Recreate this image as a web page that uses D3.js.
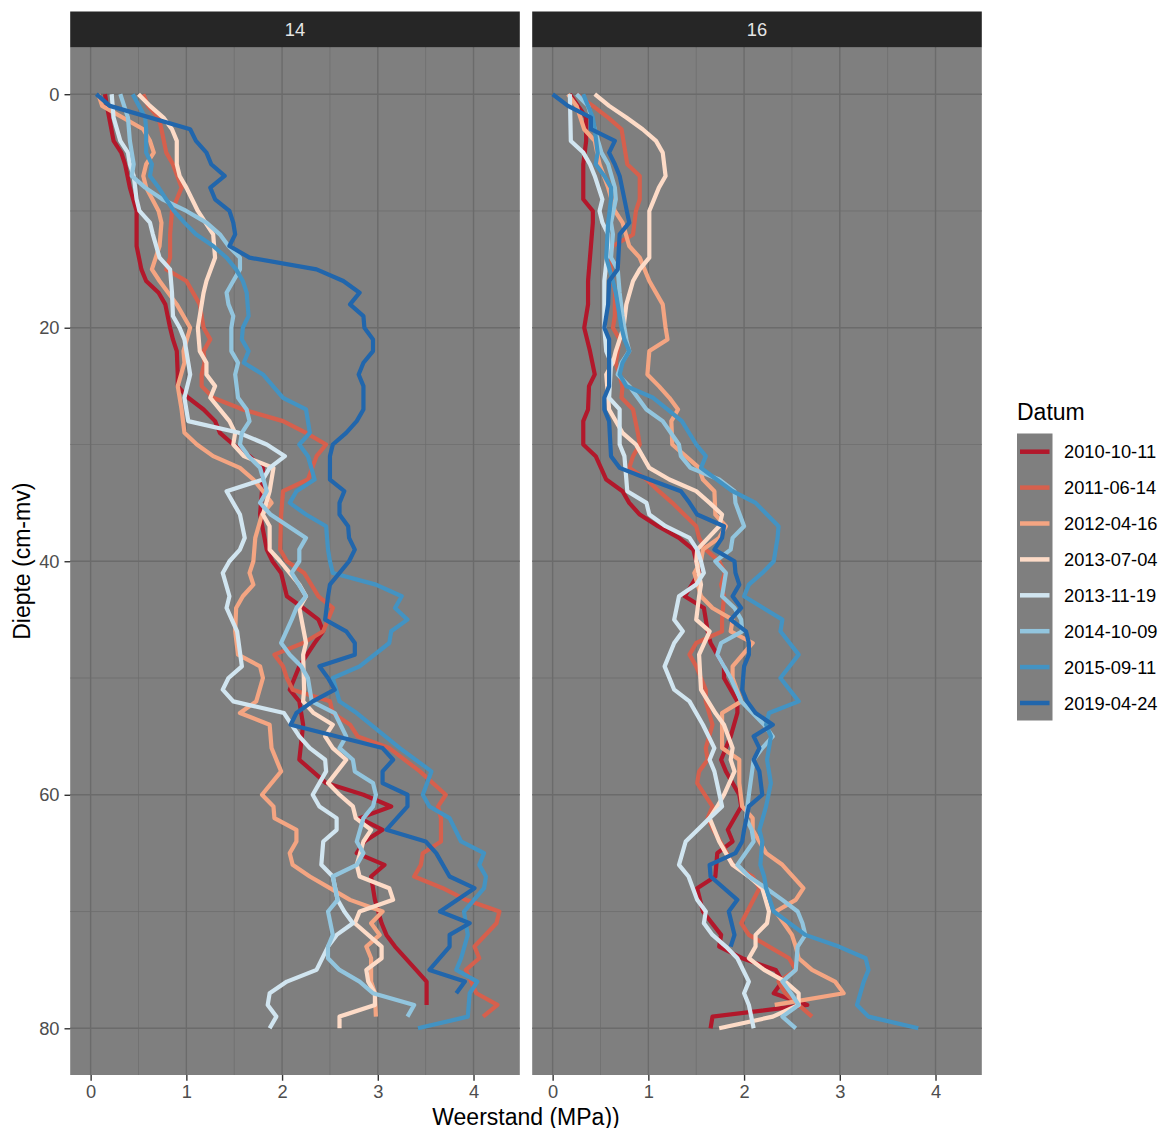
<!DOCTYPE html>
<html>
<head>
<meta charset="utf-8">
<script src="https://cdn.jsdelivr.net/npm/d3@7"></script>
<style>
  body { margin: 0; background: #ffffff; }
  text { font-family: "Liberation Sans", Arial, sans-serif; }
</style>
</head>
<body>
<svg id="chart" width="1163" height="1128"></svg>
<script>
// Penetrometer profiles: resistance (MPa) against depth (cm below surface), per location
const facets = ["14", "16"];
const dates = ["2010-10-11", "2011-06-14", "2012-04-16", "2013-07-04",
               "2013-11-19", "2014-10-09", "2015-09-11", "2019-04-24"];
const palette = ["#B2182B", "#D6604D", "#F4A582", "#FDDBC7",
                 "#D1E5F0", "#92C5DE", "#4393C3", "#2166AC"];
const xTicks = [0, 1, 2, 3, 4];
const yTicks = [0, 20, 40, 60, 80];

// [depth cm, resistance MPa] — location 14
const p14_2010 = [[0,0.15],[1,0.17],[4,0.24],[5,0.32],[6,0.36],[8,0.41],[10,0.48],[13,0.48],[15,0.53],[16,0.58],[17,0.71],[18,0.78],[20,0.83],[21,0.86],[22,0.9],[24,0.91],[25,0.91],[26,1.02],[27,1.18],[28,1.3],[29,1.35],[30,1.49],[31,1.66],[32,1.8],[34,1.79],[36,1.77],[39,1.84],[40,1.9],[41,1.99],[43,2.05],[44,2.22],[45,2.38],[46,2.43],[47,2.34],[49,2.18],[51,2.08],[52,2.18],[54,2.22],[57,2.18],[59,2.46],[60,2.85],[61,3.14],[62,2.81],[63,3.05],[64,2.86],[65,2.78],[66,3.07],[67,2.93],[69,2.97],[71,3.04],[72,3.09],[73,3.18],[75,3.4],[76,3.51],[78,3.51]];
const p14_2011 = [[0,0.55],[1,0.6],[2,0.71],[3,0.74],[5,0.79],[6,0.86],[8,0.95],[9,0.9],[10,0.85],[12,0.83],[14,0.83],[15,0.79],[16,1.0],[18,1.14],[20,1.18],[21,1.25],[22,1.18],[23,1.19],[24,1.16],[25,1.16],[26,1.28],[27,1.59],[28,2.01],[29,2.25],[30,2.46],[31,2.36],[33,2.27],[34,2.01],[36,1.99],[39,1.98],[40,2.05],[41,2.23],[43,2.38],[44,2.53],[46,2.43],[47,2.22],[48,1.92],[49,2.01],[50,2.05],[51,2.11],[52,2.5],[53,2.53],[54,2.71],[55,2.79],[56,3.12],[58,3.44],[60,3.71],[61,3.63],[62,3.66],[64,3.66],[65,3.47],[66,3.45],[67,3.38],[68,3.68],[69,3.92],[70,4.27],[71,4.24],[73,4.01],[74,4.06],[75,3.92],[77,4.03],[78,4.25],[79,4.1]];
const p14_2012 = [[0,0.08],[1,0.12],[3,0.55],[4,0.62],[5,0.66],[6,0.58],[7,0.55],[8,0.58],[10,0.71],[11,0.74],[13,0.72],[15,0.64],[16,0.72],[18,0.9],[19,0.97],[20,1.04],[22,0.97],[23,0.98],[25,0.91],[27,0.95],[29,0.98],[30,1.11],[31,1.28],[32,1.56],[33,1.7],[34,1.8],[35,1.89],[36,1.79],[38,1.72],[40,1.7],[41,1.66],[42,1.7],[43,1.59],[44,1.52],[46,1.51],[48,1.54],[49,1.77],[50,1.8],[52,1.73],[53,1.56],[54,1.87],[56,1.89],[58,1.99],[60,1.79],[61,1.91],[62,1.92],[63,2.15],[64,2.15],[65,2.08],[66,2.11],[67,2.29],[68,2.5],[69,2.71],[70,3.05],[71,2.93],[72,3.02],[73,2.88],[74,2.93],[76,2.93],[77,2.97],[79,2.98]];
const p14_2013a = [[0,0.5],[1,0.62],[2,0.76],[3,0.85],[4,0.9],[6,0.9],[7,0.93],[8,1.0],[10,1.12],[12,1.28],[14,1.3],[16,1.21],[17,1.18],[20,1.12],[22,1.14],[23,1.21],[24,1.21],[25,1.3],[26,1.25],[28,1.45],[29,1.51],[30,1.49],[31,1.6],[32,1.91],[34,1.87],[36,1.8],[37,1.87],[39,1.87],[40,1.98],[42,2.18],[43,2.25],[44,2.18],[47,2.25],[48,2.22],[51,2.23],[52,2.22],[53,2.33],[54,2.53],[55,2.45],[56,2.53],[57,2.67],[59,2.48],[60,2.6],[61,2.74],[62,2.77],[63,2.93],[64,2.85],[66,2.78],[67,2.81],[68,3.12],[69,3.16],[70,2.81],[71,2.76],[73,3.04],[74,3.04],[75,2.88],[76,2.9],[77,2.97],[78,2.97],[79,2.6],[80,2.6]];
const p14_2013b = [[0,0.22],[2,0.24],[4,0.31],[5,0.39],[6,0.41],[7,0.45],[9,0.48],[10,0.51],[11,0.62],[12,0.65],[14,0.72],[15,0.83],[17,0.85],[19,0.86],[20,0.93],[21,0.98],[24,1.04],[26,0.98],[28,1.02],[29,1.55],[30,1.84],[31,2.03],[32,1.87],[33,1.8],[34,1.42],[36,1.56],[38,1.61],[39,1.56],[40,1.45],[41,1.38],[43,1.45],[44,1.42],[46,1.53],[49,1.58],[50,1.44],[51,1.38],[52,1.49],[53,2.02],[55,2.18],[56,2.29],[57,2.45],[58,2.46],[60,2.32],[61,2.39],[62,2.57],[63,2.57],[64,2.43],[66,2.41],[67,2.53],[69,2.58],[70,2.65],[71,2.74],[72,2.57],[73,2.48],[75,2.36],[76,2.05],[77,1.87],[78,1.85],[79,1.94],[80,1.87]];
const p14_2014 = [[0,0.31],[2,0.39],[4,0.41],[6,0.45],[7,0.43],[8,0.57],[9,0.75],[10,1.0],[11,1.21],[12,1.35],[13,1.44],[14,1.56],[15,1.56],[16,1.49],[17,1.42],[18,1.44],[19,1.49],[20,1.47],[22,1.47],[23,1.54],[24,1.51],[26,1.54],[27,1.63],[28,1.66],[29,1.58],[30,1.56],[31,1.65],[32,1.77],[34,1.84],[35,1.77],[36,1.88],[38,2.25],[39,2.18],[40,2.18],[41,2.1],[43,2.25],[44,2.15],[45,2.1],[47,1.99],[48,2.08],[49,2.2],[50,2.27],[52,2.31],[53,2.55],[55,2.67],[56,2.6],[57,2.74],[58,2.76],[59,2.95],[60,2.98],[61,2.95],[62,2.85],[64,2.78],[65,2.85],[66,2.78],[67,2.53],[69,2.58],[70,2.48],[72,2.53],[73,2.48],[74,2.48],[75,2.6],[76,2.81],[77,2.95],[78,3.38],[79,3.31]];
const p14_2015 = [[0,0.44],[2,0.57],[3,0.58],[5,0.58],[6,0.64],[7,0.62],[8,0.71],[9,0.79],[10,0.87],[11,0.98],[12,1.1],[13,1.28],[14,1.42],[15,1.52],[16,1.59],[17,1.63],[19,1.65],[20,1.59],[21,1.58],[22,1.65],[23,1.6],[24,1.8],[26,2.01],[27,2.25],[29,2.29],[30,2.18],[31,2.27],[33,2.34],[34,2.15],[35,2.08],[36,2.25],[37,2.46],[39,2.48],[40,2.5],[41,2.53],[42,2.98],[43,3.25],[44,3.18],[45,3.31],[46,3.14],[47,3.12],[49,2.81],[50,2.53],[52,2.6],[53,2.78],[56,3.23],[58,3.56],[60,3.47],[61,3.54],[62,3.75],[64,3.87],[65,4.11],[66,4.06],[67,4.13],[68,4.11],[70,3.9],[72,3.94],[74,3.87],[75,3.82],[76,4.04],[77,3.96],[79,3.94],[80,3.42]];
const p14_2019 = [[0,0.06],[1,0.2],[3,1.04],[4,1.1],[5,1.21],[6,1.26],[7,1.4],[8,1.25],[9,1.3],[10,1.45],[11,1.49],[12,1.51],[13,1.45],[14,1.66],[15,2.36],[16,2.64],[17,2.81],[18,2.71],[19,2.85],[20,2.86],[21,2.95],[22,2.95],[23,2.85],[24,2.8],[25,2.85],[27,2.85],[28,2.78],[29,2.67],[30,2.53],[31,2.5],[33,2.5],[34,2.65],[35,2.6],[36,2.6],[37,2.69],[38,2.7],[39,2.76],[40,2.7],[42,2.5],[43,2.48],[45,2.45],[46,2.67],[47,2.76],[48,2.76],[49,2.39],[50,2.48],[51,2.55],[52,2.32],[53,2.15],[54,2.09],[56,3.05],[57,3.16],[58,3.05],[59,3.05],[60,3.31],[61,3.31],[63,3.09],[64,3.5],[65,3.61],[67,3.75],[68,4.01],[70,3.65],[71,3.96],[72,3.75],[73,3.75],[75,3.54],[76,3.91],[77,3.82]];

// [depth cm, resistance MPa] — location 16
const p16_2010 = [[0,0.18],[2,0.35],[4,0.35],[6,0.32],[9,0.32],[10,0.42],[11,0.42],[14,0.39],[16,0.37],[18,0.37],[20,0.33],[22,0.39],[24,0.44],[25,0.38],[27,0.37],[28,0.32],[30,0.32],[31,0.45],[33,0.56],[34,0.73],[35,0.8],[36,0.91],[37,1.1],[38,1.32],[39,1.47],[40,1.5],[41,1.53],[43,1.38],[44,1.58],[46,1.62],[47,1.65],[49,1.79],[50,1.79],[52,1.93],[53,1.93],[55,1.86],[57,1.76],[58,1.81],[60,1.95],[61,1.97],[63,1.83],[64,1.88],[65,1.72],[67,1.7],[68,1.51],[70,1.57],[72,1.76],[73,1.74],[74,1.98],[75,2.33],[76,2.4],[77,2.31],[78,2.66],[79,1.67],[80,1.65]];
const p16_2011 = [[0,0.25],[1,0.42],[2,0.58],[3,0.72],[6,0.78],[7,0.91],[9,0.91],[10,0.87],[12,0.84],[13,0.63],[14,0.59],[17,0.65],[19,0.65],[20,0.63],[21,0.7],[23,0.66],[25,0.73],[26,0.72],[27,0.84],[29,0.89],[30,0.91],[31,0.84],[32,0.8],[33,0.98],[34,1.11],[35,1.25],[37,1.5],[38,1.53],[39,1.6],[40,1.74],[41,1.8],[42,1.76],[43,1.79],[45,1.77],[46,1.77],[47,1.5],[48,1.43],[49,1.5],[50,1.55],[51,1.6],[52,1.6],[54,1.67],[56,1.6],[57,1.62],[58,1.53],[59,1.51],[61,1.67],[62,1.62],[63,1.68],[64,1.75],[65,1.82],[66,1.88],[67,2.09],[68,2.16],[71,1.97],[72,2.05],[73,2.26],[74,2.47],[75,2.54],[76,2.36],[77,2.43],[78,2.57],[79,2.71]];
const p16_2012 = [[0,0.16],[1,0.25],[3,0.33],[4,0.44],[6,0.49],[8,0.58],[10,0.65],[11,0.73],[13,0.8],[14,0.91],[16,1.01],[18,1.15],[20,1.18],[21,1.2],[22,1.01],[24,0.99],[25,1.11],[26,1.22],[27,1.31],[28,1.24],[30,1.25],[31,1.39],[32,1.53],[33,1.57],[34,1.69],[36,1.7],[37,1.81],[38,1.74],[39,1.57],[40,1.55],[41,1.48],[43,1.55],[44,1.67],[45,1.88],[46,1.86],[47,2.09],[49,1.88],[50,1.88],[52,1.97],[53,1.77],[56,1.77],[57,1.95],[59,1.95],[61,1.98],[62,2.09],[63,2.09],[65,2.23],[66,2.4],[68,2.62],[69,2.54],[70,2.33],[72,2.5],[73,2.54],[74,2.57],[75,2.71],[76,2.95],[77,3.04],[78,2.32]];
const p16_2013a = [[0,0.44],[1,0.59],[2,0.77],[3,0.94],[4,1.08],[5,1.15],[7,1.18],[8,1.11],[10,1.01],[14,1.01],[15,0.91],[16,0.84],[18,0.77],[20,0.74],[22,0.66],[23,0.63],[24,0.56],[27,0.59],[29,0.73],[30,0.87],[32,1.01],[33,1.22],[34,1.5],[35,1.64],[36,1.77],[37,1.74],[39,1.51],[40,1.5],[42,1.55],[43,1.53],[45,1.5],[46,1.64],[48,1.53],[51,1.55],[53,1.7],[54,1.79],[56,1.88],[57,1.86],[58,1.9],[60,1.79],[61,1.72],[62,1.64],[64,1.74],[66,1.88],[67,2.05],[68,2.19],[70,2.26],[71,2.24],[72,2.12],[73,2.12],[74,2.05],[75,2.21],[76,2.43],[77,2.57],[78,2.57],[79,2.3],[80,1.74]];
const p16_2013b = [[0,0.18],[4,0.19],[5,0.32],[6,0.39],[7,0.44],[9,0.52],[10,0.49],[11,0.52],[12,0.58],[13,0.58],[16,0.54],[20,0.54],[22,0.56],[23,0.61],[26,0.59],[27,0.7],[30,0.7],[31,0.75],[34,0.78],[35,0.98],[36,1.01],[37,1.18],[38,1.43],[39,1.51],[40,1.55],[41,1.58],[42,1.5],[43,1.32],[45,1.27],[46,1.36],[47,1.27],[49,1.17],[51,1.27],[52,1.43],[54,1.57],[56,1.69],[57,1.64],[58,1.69],[61,1.77],[62,1.64],[64,1.39],[66,1.32],[67,1.42],[69,1.51],[70,1.6],[71,1.58],[72,1.67],[73,1.81],[74,1.93],[76,2.05],[77,2.0],[78,2.05],[80,2.1]];
const p16_2014 = [[0,0.25],[1,0.37],[3,0.44],[5,0.51],[6,0.58],[8,0.65],[9,0.66],[11,0.61],[12,0.63],[14,0.61],[15,0.68],[17,0.7],[19,0.73],[20,0.75],[21,0.77],[22,0.8],[23,0.72],[24,0.68],[25,0.8],[27,0.98],[28,1.15],[30,1.32],[31,1.34],[32,1.44],[33,1.74],[34,1.9],[35,1.91],[37,2.0],[38,1.88],[39,1.86],[40,1.7],[41,1.81],[43,1.77],[44,1.9],[45,1.97],[46,1.98],[47,1.76],[48,1.72],[50,1.86],[52,1.97],[53,2.09],[54,2.21],[55,2.3],[56,2.19],[57,2.1],[60,2.05],[62,2.02],[63,2.08],[64,2.1],[66,1.93],[67,2.05],[68,2.23],[69,2.4],[70,2.56],[71,2.61],[72,2.64],[73,2.56],[75,2.54],[76,2.4],[77,2.49],[78,2.57],[79,2.4],[80,2.54]];
const p16_2015 = [[0,0.32],[2,0.42],[3,0.44],[5,0.47],[6,0.45],[7,0.54],[8,0.61],[9,0.61],[11,0.58],[14,0.56],[16,0.63],[17,0.66],[20,0.72],[21,0.75],[22,0.8],[23,0.73],[24,0.7],[25,0.77],[26,1.05],[27,1.2],[28,1.35],[30,1.5],[31,1.6],[32,1.55],[34,1.88],[35,2.12],[37,2.36],[38,2.35],[40,2.31],[41,2.19],[42,2.05],[43,2.0],[44,2.2],[45,2.4],[46,2.38],[48,2.57],[50,2.38],[52,2.57],[53,2.26],[54,2.23],[55,2.28],[57,2.24],[59,2.28],[61,2.23],[63,2.16],[64,2.19],[66,2.17],[67,2.21],[68,2.23],[70,2.31],[72,2.64],[73,2.99],[74,3.27],[75,3.3],[76,3.25],[78,3.18],[79,3.3],[80,3.82]];
const p16_2019 = [[0,0.0],[1,0.16],[2,0.4],[3,0.4],[4,0.65],[5,0.59],[6,0.65],[7,0.7],[11,0.8],[12,0.7],[15,0.68],[16,0.59],[18,0.58],[20,0.54],[21,0.59],[25,0.59],[26,0.54],[27,0.54],[28,0.59],[31,0.61],[32,0.7],[33,1.01],[34,1.34],[35,1.43],[36,1.51],[37,1.79],[38,1.77],[39,1.69],[40,1.9],[41,1.91],[42,1.95],[43,1.88],[44,1.97],[45,1.86],[46,2.02],[47,2.05],[48,2.05],[49,2.0],[51,1.98],[52,2.03],[53,2.12],[54,2.3],[55,2.1],[56,2.16],[57,2.1],[58,2.16],[60,2.19],[61,2.05],[63,2.0],[64,1.98],[65,1.91],[66,1.64],[67,1.65],[69,1.93],[70,1.84],[72,1.9],[73,1.86]];

const profiles = {
  "14": [p14_2010, p14_2011, p14_2012, p14_2013a, p14_2013b, p14_2014, p14_2015, p14_2019],
  "16": [p16_2010, p16_2011, p16_2012, p16_2013a, p16_2013b, p16_2014, p16_2015, p16_2019]
};

// ---- layout ----
const svg = d3.select("#chart");
const panelTop = 47.5, panelBottom = 1075, stripTop = 11.5;
const panels = [
  { key: "14", x0: 70.2, x1: 519.8 },
  { key: "16", x0: 532.2, x1: 981.8 }
];
const y = d3.scaleLinear().domain([-4, 84]).range([panelTop, panelBottom]);
const gridColor = "#6B6B6B";
const textSize = 18.3, titleSize = 23;
const color = d3.scaleOrdinal().domain(dates).range(palette);

panels.forEach((p, pi) => {
  const x = d3.scaleLinear().domain([-0.2135, 4.4835]).range([p.x0, p.x1]);
  const g = svg.append("g");

  // panel background
  g.append("rect").attr("x", p.x0).attr("y", panelTop)
    .attr("width", p.x1 - p.x0).attr("height", panelBottom - panelTop)
    .attr("fill", "#7F7F7F");

  // minor grid
  const xMinor = [0.5, 1.5, 2.5, 3.5];
  const yMinor = [10, 30, 50, 70];
  g.selectAll(".xminor").data(xMinor).join("line")
    .attr("x1", d => x(d)).attr("x2", d => x(d))
    .attr("y1", panelTop).attr("y2", panelBottom)
    .attr("stroke", gridColor).attr("stroke-width", 0.7);
  g.selectAll(".yminor").data(yMinor).join("line")
    .attr("y1", d => y(d)).attr("y2", d => y(d))
    .attr("x1", p.x0).attr("x2", p.x1)
    .attr("stroke", gridColor).attr("stroke-width", 0.7);
  // major grid
  g.selectAll(".xmajor").data(xTicks).join("line")
    .attr("x1", d => x(d)).attr("x2", d => x(d))
    .attr("y1", panelTop).attr("y2", panelBottom)
    .attr("stroke", gridColor).attr("stroke-width", 1.4);
  g.selectAll(".ymajor").data(yTicks).join("line")
    .attr("y1", d => y(d)).attr("y2", d => y(d))
    .attr("x1", p.x0).attr("x2", p.x1)
    .attr("stroke", gridColor).attr("stroke-width", 1.4);

  // strip
  g.append("rect").attr("x", p.x0).attr("y", stripTop)
    .attr("width", p.x1 - p.x0).attr("height", panelTop - stripTop)
    .attr("fill", "#262626");
  g.append("text").attr("x", (p.x0 + p.x1) / 2).attr("y", (stripTop + panelTop) / 2)
    .attr("text-anchor", "middle").attr("dominant-baseline", "central")
    .attr("fill", "#E5E5E5").attr("font-size", textSize).text(p.key);

  // profiles
  const clipId = "clip" + pi;
  svg.append("clipPath").attr("id", clipId).append("rect")
    .attr("x", p.x0).attr("y", panelTop)
    .attr("width", p.x1 - p.x0).attr("height", panelBottom - panelTop);
  const line = d3.line().x(d => x(d[1])).y(d => y(d[0]));
  g.append("g").attr("clip-path", `url(#${clipId})`)
    .selectAll("path").data(profiles[p.key]).join("path")
    .attr("d", line)
    .attr("fill", "none")
    .attr("stroke", (d, i) => color(dates[i]))
    .attr("stroke-width", 4.2)
    .attr("stroke-linejoin", "round")
    .attr("stroke-linecap", "butt");

  // x axis
  const xAxis = d3.axisBottom(x).tickValues(xTicks).tickSize(5.7).tickPadding(4.3).tickFormat(d3.format("d"));
  const ax = g.append("g").attr("transform", `translate(0,${panelBottom})`).call(xAxis);
  ax.select(".domain").remove();
  ax.selectAll(".tick line").attr("stroke", "#333333").attr("stroke-width", 1.4);
  ax.selectAll(".tick text").attr("fill", "#4D4D4D").attr("font-size", textSize)
    .attr("font-family", "Liberation Sans, Arial, sans-serif");

  // y axis on the first panel only
  if (pi === 0) {
    const yAxis = d3.axisLeft(y).tickValues(yTicks).tickSize(5.7).tickPadding(5).tickFormat(d3.format("d"));
    const ay = g.append("g").attr("transform", `translate(${p.x0},0)`).call(yAxis);
    ay.select(".domain").remove();
    ay.selectAll(".tick line").attr("stroke", "#333333").attr("stroke-width", 1.4);
    ay.selectAll(".tick text").attr("fill", "#4D4D4D").attr("font-size", textSize)
      .attr("font-family", "Liberation Sans, Arial, sans-serif");
  }
});

// axis titles
svg.append("text").attr("x", (70.2 + 981.8) / 2).attr("y", 1124.5)
  .attr("text-anchor", "middle").attr("font-size", titleSize).attr("fill", "#000")
  .text("Weerstand (MPa))");
svg.append("text")
  .attr("transform", `translate(29.5,${(panelTop + panelBottom) / 2}) rotate(-90)`)
  .attr("text-anchor", "middle").attr("font-size", titleSize).attr("fill", "#000")
  .text("Diepte (cm-mv)");

// legend
const legend = svg.append("g").attr("transform", "translate(1017,0)");
legend.append("text").attr("x", 0).attr("y", 420).attr("font-size", titleSize)
  .attr("fill", "#000").text("Datum");
legend.append("rect").attr("x", 0).attr("y", 433.5).attr("width", 35.5).attr("height", 287)
  .attr("fill", "#7F7F7F");
const keys = legend.selectAll(".key").data(dates).join("g")
  .attr("transform", (d, i) => `translate(0,${451.7 + i * 35.9})`);
keys.append("line").attr("x1", 3).attr("x2", 32.5).attr("y1", 0).attr("y2", 0)
  .attr("stroke", d => color(d)).attr("stroke-width", 4.5);
keys.append("text").attr("x", 47).attr("y", 0).attr("dominant-baseline", "central")
  .attr("font-size", textSize).attr("fill", "#000").text(d => d);
</script>
</body>
</html>
